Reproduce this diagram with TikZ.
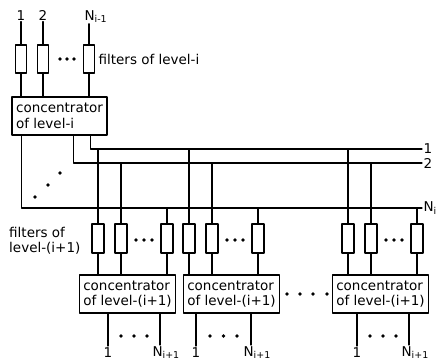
\documentclass[tikz,border=0pt]{standalone}
\usepackage{fontspec}
\setmainfont{DejaVu Sans}
\begin{document}
\begin{tikzpicture}[x=1pt,y=-1pt,line width=1.2pt,line cap=round,line join=round,
  font=\fontsize{13.5}{15.5}\selectfont,
  filter/.style={draw,rectangle,minimum width=11pt,minimum height=28pt,inner sep=0pt},
  conc/.style={draw,rectangle,minimum width=96pt,minimum height=38pt,inner sep=2pt,align=left},
  lab/.style={inner sep=1pt},
  dot/.style={circle,fill=black,inner sep=0pt,minimum size=3.6pt}]
\path[use as bounding box] (0,0) rectangle (438,362);
% Level i: inputs, filters and concentrator.
\node[lab,anchor=base] (t1) at (21,20) {1};
\node[lab,anchor=base] (t2) at (43,20) {2};
\node[lab,anchor=base west] (t3) at (83,20) {N\textsubscript{i-1}};
\node[filter] (ft1) at (21,59) {};
\node[filter] (ft2) at (43,59) {};
\node[filter] (ft3) at (89,59) {};
\foreach \x [count=\k] in {60,67,74} \node[dot] (dta\k) at (\x,59) {};
\node[lab,anchor=west] (ftlab) at (97,59) {filters of level-i};
\node[conc,minimum width=95pt] (ci) at (59.5,116) {concentrator\\of level-i};
\foreach \f/\t in {ft1/t1,ft2/t2,ft3/t3} {
  \draw (\f.north) -- (\f.north |- \t.south);
  \draw (\f.south) -- (\f.south |- ci.north);
}
% Buses 1, 2, ..., N_i.
\coordinate (e1) at (422,149);
\coordinate (e2) at (422,163);
\coordinate (en) at (422,208);
\node[lab,anchor=west] (b1) at (e1) {1};
\node[lab,anchor=west] (b2) at (e2) {2};
\node[lab,anchor=west] (bn) at (en) {N\textsubscript{i}};
\draw ([xshift=79pt]ci.south west) |- (e1);
\draw ([xshift=62pt]ci.south west) |- (e2);
\draw ([xshift=10pt]ci.south west) |- (en);
\node[dot] (dd1) at (35,197) {};
\node[dot] (dd2) at (48,185) {};
\node[dot] (dd3) at (60,173) {};
% Level i+1: filters and concentrators.
\node[lab,anchor=east,align=left] (fblab) at (82,241) {filters of\\level-(i+1)};
\foreach \g/\xa/\xb/\xc/\xm in {1/98/121/167/127.5, 2/189/212/258/231.5, 3/348/371/417/380.5} {
  \node[filter,minimum width=12pt,minimum height=29pt] (f\g-a) at (\xa,238.5) {};
  \node[filter,minimum width=12pt,minimum height=29pt] (f\g-b) at (\xb,238.5) {};
  \node[filter,minimum width=12pt,minimum height=29pt] (f\g-c) at (\xc,238.5) {};
  \node[conc] (c\g) at (\xm,294) {concentrator\\of level-(i+1)};
  \draw (f\g-a.north) -- (f\g-a.north |- e1);
  \draw (f\g-b.north) -- (f\g-b.north |- e2);
  \draw (f\g-c.north) -- (f\g-c.north |- en);
  \foreach \s in {a,b,c} \draw (f\g-\s.south) -- (f\g-\s.south |- c\g.north);
}
\foreach \x [count=\k] in {136,144,152, 227,235,243, 386,394,402} \node[dot] (dtb\k) at (\x,240) {};
\foreach \x [count=\k] in {287,300,313,327} \node[dot] (dtc\k) at (\x,294) {};
% Outputs 1, ..., N_{i+1}.
\foreach \g/\xa/\xb in {1/108/160, 2/196/251, 3/357/409} {
  \node[lab,anchor=north] (o\g-a) at (\xa,346) {1};
  \node[lab,anchor=north west] (o\g-b) at (\xb-9,345) {N\textsubscript{i+1}};
  \coordinate (o\g-e) at ([xshift=9pt]o\g-b.north west);
  \draw (o\g-a.north) -- (o\g-a.north |- c\g.south);
  \draw (o\g-e) -- (o\g-e |- c\g.south);
}
\foreach \x [count=\k] in {121,134,147, 210,223.5,237, 370,383,396} \node[dot] (dtd\k) at (\x,336) {};
\end{tikzpicture}
\end{document}
